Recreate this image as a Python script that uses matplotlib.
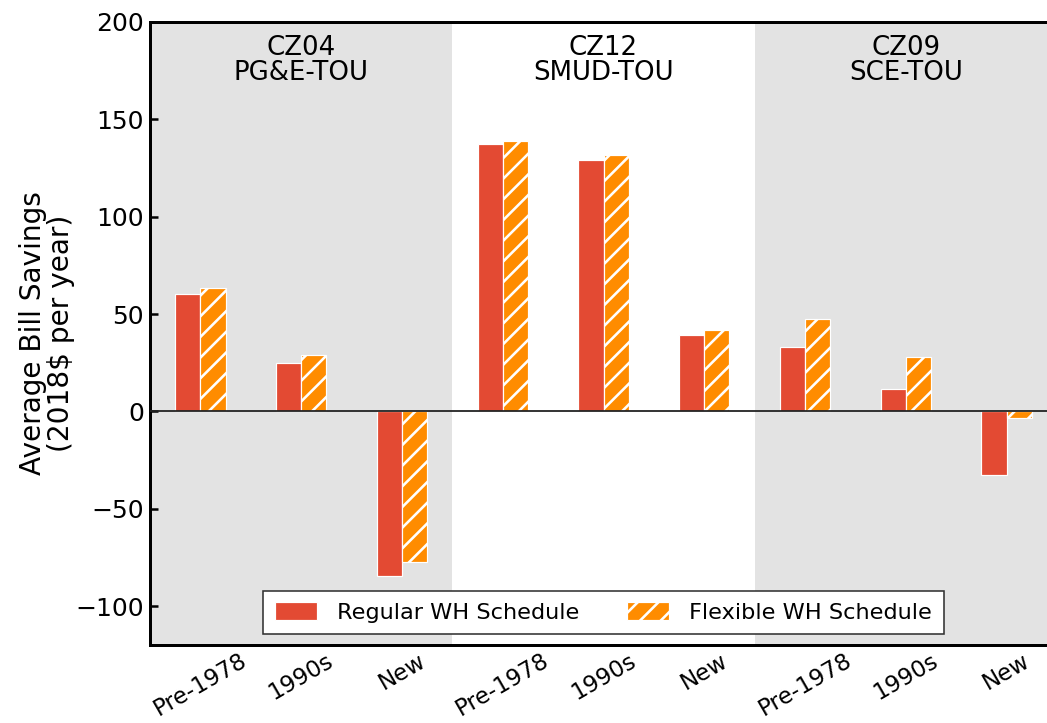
import matplotlib
matplotlib.use("Agg")
import matplotlib.pyplot as plt
import numpy as np

vintages = ["Pre-1978", "1990s", "New"]
zones = ["CZ04\nPG&E-TOU", "CZ12\nSMUD-TOU", "CZ09\nSCE-TOU"]
regular = [60.5, 25.1, -84.6, 137.4, 129.2, 39.0, 33.0, 11.3, -32.8]
flexible = [63.6, 28.7, -77.4, 139.1, 131.6, 42.0, 47.2, 27.9, -3.6]

DPI = 124


def pt(px):
    # sizes are picked in pixels, matplotlib wants points
    return px * 72.0 / DPI


plt.rcParams['hatch.color'] = 'white'
plt.rcParams['hatch.linewidth'] = pt(2.6)

fig = plt.figure(figsize=(1047 / DPI, 723 / DPI), dpi=DPI)
ax = fig.add_axes([150 / 1047, 78 / 723, 907 / 1047, 623 / 723])

x = np.arange(len(regular))
w = 0.25
ax.bar(x - w / 2, regular, w, color="#e34a33", edgecolor="white", linewidth=pt(1.2),
       label="Regular WH Schedule", zorder=3)
ax.bar(x + w / 2, flexible, w, color="#ff8c00", edgecolor="white", linewidth=pt(1.2),
       hatch="//", label="Flexible WH Schedule", zorder=3)

for i, z in enumerate(zones):
    if i % 2 == 0:
        ax.axvspan(3 * i - 0.5, 3 * i + 2.5, color="#e3e3e3", zorder=0, lw=0)
    ax.text(3 * i + 1, 193.5, z, ha="center", va="top", fontsize=pt(26), linespacing=0.95)

ax.axhline(0, color="#222222", lw=pt(1.8), zorder=4)
ax.set_xlim(-0.5, 8.5)
ax.set_ylim(-120, 200)
ax.set_yticks([-100, -50, 0, 50, 100, 150, 200])
ax.tick_params(axis="y", direction="in", length=pt(8), width=pt(2.5), labelsize=pt(25), pad=pt(6))
ax.tick_params(axis="x", length=0, labelsize=pt(23), pad=pt(4))
ax.set_xticks(x)
ax.set_xticklabels(vintages * 3, rotation=30, ha="center")
ax.set_ylabel("Average Bill Savings\n(2018$ per year)", fontsize=pt(28), linespacing=1.0)
ax.yaxis.set_label_coords(-0.083, 0.5)
for s in ax.spines.values():
    s.set_linewidth(pt(3))
    s.set_color("black")

leg = ax.legend(loc="lower center", bbox_to_anchor=(0.5, 0.018), ncol=2, fontsize=pt(22.4),
                fancybox=False, framealpha=1, edgecolor="#333333", columnspacing=2.1,
                handlelength=1.9, handleheight=0.85, handletextpad=0.9, borderpad=0.5,
                borderaxespad=0)
leg.get_frame().set_linewidth(pt(1.6))

fig.savefig("out.png", dpi=DPI)
